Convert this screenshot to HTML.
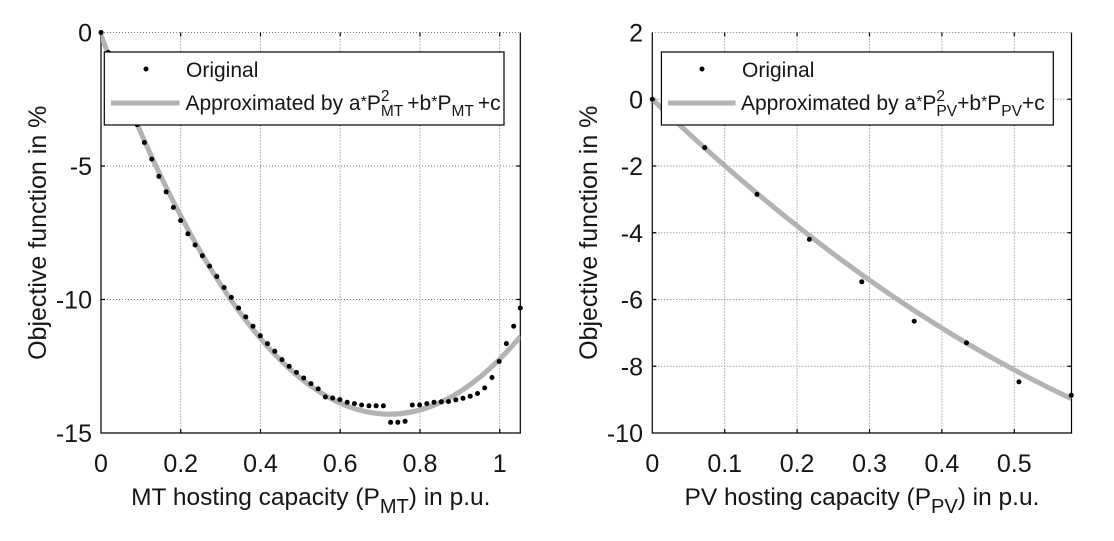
<!DOCTYPE html>
<html><head><meta charset="utf-8"><style>
html,body{margin:0;padding:0;background:#fff;}
svg{display:block;}
text{font-family:"Liberation Sans",Arial,sans-serif;fill:#151515;}
</style></head><body>
<svg width="1114" height="541" viewBox="0 0 1114 541" xmlns="http://www.w3.org/2000/svg">
<defs>
<clipPath id="c1"><rect x="101" y="32.5" width="419.3" height="400.5"/></clipPath>
<clipPath id="c2"><rect x="652.3" y="32.5" width="419.2" height="400.5"/></clipPath>
</defs>
<rect width="1114" height="541" fill="#fff"/>

<g stroke="#7a7a7a" stroke-width="1" stroke-dasharray="1,2" fill="none">
<line x1="180.7" y1="32.5" x2="180.7" y2="433"/>
<line x1="260.5" y1="32.5" x2="260.5" y2="433"/>
<line x1="340.2" y1="32.5" x2="340.2" y2="433"/>
<line x1="420" y1="32.5" x2="420" y2="433"/>
<line x1="499.7" y1="32.5" x2="499.7" y2="433"/>
<line x1="101" y1="166" x2="520.3" y2="166"/>
<line x1="101" y1="299.5" x2="520.3" y2="299.5"/>
<line x1="101" y1="32.5" x2="520.3" y2="32.5"/>
</g>
<g stroke="#000" stroke-width="1.2" fill="none">
<line x1="101" y1="32.5" x2="101" y2="433"/>
<line x1="100.4" y1="433" x2="520.9" y2="433"/>
<line x1="520.3" y1="32.5" x2="520.3" y2="433"/>
<path d="M180.7 433v-4M260.5 433v-4M340.2 433v-4M420 433v-4M499.7 433v-4M180.7 32.5v4M260.5 32.5v4M340.2 32.5v4M420 32.5v4M499.7 32.5v4M101 166h4M101 299.5h4M520.3 166h-4M520.3 299.5h-4"/>
</g>
<g clip-path="url(#c1)">
<path d="M101 35.2 Q310.3 586 520.6 336.3" stroke="#b3b3b3" stroke-width="5" fill="none"/>
</g>
<g fill="#000">
<circle cx="101" cy="32.5" r="2.5"/>
<circle cx="108.2" cy="52.5" r="2.5"/>
<circle cx="115.5" cy="71.2" r="2.5"/>
<circle cx="122.7" cy="88.6" r="2.5"/>
<circle cx="130" cy="107.3" r="2.5"/>
<circle cx="137.2" cy="124.6" r="2.5"/>
<circle cx="144.4" cy="142.5" r="2.5"/>
<circle cx="151.7" cy="159.1" r="2.5"/>
<circle cx="158.9" cy="176.4" r="2.5"/>
<circle cx="166.2" cy="191.9" r="2.5"/>
<circle cx="173.4" cy="207.4" r="2.5"/>
<circle cx="180.6" cy="220.5" r="2.5"/>
<circle cx="187.9" cy="233.8" r="2.5"/>
<circle cx="195.1" cy="245" r="2.5"/>
<circle cx="202.4" cy="255.7" r="2.5"/>
<circle cx="209.6" cy="266.1" r="2.5"/>
<circle cx="216.8" cy="276.5" r="2.5"/>
<circle cx="224.1" cy="287.5" r="2.5"/>
<circle cx="231.3" cy="297.4" r="2.5"/>
<circle cx="238.6" cy="308" r="2.5"/>
<circle cx="245.8" cy="316.9" r="2.5"/>
<circle cx="253" cy="326.2" r="2.5"/>
<circle cx="260.3" cy="335.8" r="2.5"/>
<circle cx="267.5" cy="343.6" r="2.5"/>
<circle cx="274.8" cy="351.3" r="2.5"/>
<circle cx="282" cy="359.6" r="2.5"/>
<circle cx="289.2" cy="366.3" r="2.5"/>
<circle cx="296.5" cy="372.4" r="2.5"/>
<circle cx="303.7" cy="378" r="2.5"/>
<circle cx="311" cy="383.6" r="2.5"/>
<circle cx="318.2" cy="388.9" r="2.5"/>
<circle cx="325.4" cy="397" r="2.5"/>
<circle cx="332.7" cy="398" r="2.5"/>
<circle cx="339.9" cy="399.6" r="2.5"/>
<circle cx="347.2" cy="402.3" r="2.5"/>
<circle cx="354.4" cy="403.6" r="2.5"/>
<circle cx="361.6" cy="405" r="2.5"/>
<circle cx="368.9" cy="405.8" r="2.5"/>
<circle cx="376.1" cy="405.8" r="2.5"/>
<circle cx="383.4" cy="405.8" r="2.5"/>
<circle cx="390.6" cy="422.3" r="2.5"/>
<circle cx="397.8" cy="422.3" r="2.5"/>
<circle cx="405.1" cy="421.3" r="2.5"/>
<circle cx="412.3" cy="405" r="2.5"/>
<circle cx="419.6" cy="405" r="2.5"/>
<circle cx="426.8" cy="403.6" r="2.5"/>
<circle cx="434" cy="402.3" r="2.5"/>
<circle cx="441.3" cy="401.8" r="2.5"/>
<circle cx="448.5" cy="401.5" r="2.5"/>
<circle cx="455.8" cy="399.9" r="2.5"/>
<circle cx="463" cy="398.3" r="2.5"/>
<circle cx="470.2" cy="396.2" r="2.5"/>
<circle cx="477.5" cy="393.5" r="2.5"/>
<circle cx="484.7" cy="387.9" r="2.5"/>
<circle cx="492" cy="377.5" r="2.5"/>
<circle cx="499.2" cy="361.5" r="2.5"/>
<circle cx="506.4" cy="343.6" r="2.5"/>
<circle cx="513.7" cy="326.2" r="2.5"/>
<circle cx="520.3" cy="308" r="2.5"/>
</g>
<rect x="104.3" y="52" width="399.7" height="73" fill="#fff" stroke="#000" stroke-width="1.2"/>
<circle cx="146" cy="69" r="2.5" fill="#000"/>
<line x1="111" y1="103" x2="179.5" y2="103" stroke="#b3b3b3" stroke-width="5"/>
<text x="186" y="77" font-size="21">Original</text>
<text x="185.5" y="110" font-size="21">Approximated by a<tspan font-size="16" dy="-3">*</tspan><tspan dy="3">P</tspan><tspan font-size="15.5" dy="-9">2</tspan><tspan font-size="15.5" dx="-8.6" dy="15">MT</tspan><tspan dx="4" dy="-6">+b</tspan><tspan font-size="16" dy="-3">*</tspan><tspan dy="3">P</tspan><tspan font-size="15.5" dy="6">MT</tspan><tspan dx="4" dy="-6">+c</tspan></text>

<g font-size="25" text-anchor="end">
<text x="92" y="41.5">0</text>
<text x="92" y="175">-5</text>
<text x="92" y="308.5">-10</text>
<text x="92" y="442">-15</text>
</g>
<g font-size="25" text-anchor="middle">
<text x="101" y="472">0</text>
<text x="180.7" y="472">0.2</text>
<text x="260.5" y="472">0.4</text>
<text x="340.2" y="472">0.6</text>
<text x="420" y="472">0.8</text>
<text x="499.7" y="472">1</text>
</g>
<text transform="translate(46,232.75) rotate(-90)" font-size="25" text-anchor="middle">Objective function in %</text>
<text x="310.8" y="505" font-size="24.5" text-anchor="middle">MT hosting capacity (P<tspan font-size="20" dy="8">MT</tspan><tspan dy="-8">) in p.u.</tspan></text>

<g stroke="#7a7a7a" stroke-width="1" stroke-dasharray="1,2" fill="none">
<line x1="724.7" y1="32.5" x2="724.7" y2="433"/>
<line x1="797.1" y1="32.5" x2="797.1" y2="433"/>
<line x1="869.5" y1="32.5" x2="869.5" y2="433"/>
<line x1="941.9" y1="32.5" x2="941.9" y2="433"/>
<line x1="1014.3" y1="32.5" x2="1014.3" y2="433"/>
<line x1="652.3" y1="99.25" x2="1071.5" y2="99.25"/>
<line x1="652.3" y1="166" x2="1071.5" y2="166"/>
<line x1="652.3" y1="232.75" x2="1071.5" y2="232.75"/>
<line x1="652.3" y1="299.5" x2="1071.5" y2="299.5"/>
<line x1="652.3" y1="366.25" x2="1071.5" y2="366.25"/>
<line x1="652.3" y1="32.5" x2="1071.5" y2="32.5"/>
</g>
<g stroke="#000" stroke-width="1.2" fill="none">
<line x1="652.3" y1="32.5" x2="652.3" y2="433"/>
<line x1="651.7" y1="433" x2="1072.1" y2="433"/>
<line x1="1071.5" y1="32.5" x2="1071.5" y2="433"/>
<path d="M724.7 433v-4M797.1 433v-4M869.5 433v-4M941.9 433v-4M1014.3 433v-4M724.7 32.5v4M797.1 32.5v4M869.5 32.5v4M941.9 32.5v4M1014.3 32.5v4M652.3 99.25h4M652.3 166h4M652.3 232.75h4M652.3 299.5h4M652.3 366.25h4M1071.5 99.25h-4M1071.5 166h-4M1071.5 232.75h-4M1071.5 299.5h-4M1071.5 366.25h-4"/>
</g>
<g clip-path="url(#c2)">
<path d="M652.3 99.25 Q861.8 300.5 1071.3 398.6" stroke="#b3b3b3" stroke-width="5" fill="none"/>
</g>
<g fill="#000">
<circle cx="652.3" cy="99.25" r="2.5"/>
<circle cx="704.7" cy="147.6" r="2.5"/>
<circle cx="757" cy="194.4" r="2.5"/>
<circle cx="809.4" cy="239.4" r="2.5"/>
<circle cx="861.8" cy="281.8" r="2.5"/>
<circle cx="914.2" cy="321.2" r="2.5"/>
<circle cx="966.5" cy="342.9" r="2.5"/>
<circle cx="1018.9" cy="381.9" r="2.5"/>
<circle cx="1071.3" cy="395.3" r="2.5"/>
</g>
<rect x="661.4" y="52" width="391.9" height="73" fill="#fff" stroke="#000" stroke-width="1.2"/>
<circle cx="702" cy="69" r="2.5" fill="#000"/>
<line x1="668" y1="103" x2="735.6" y2="103" stroke="#b3b3b3" stroke-width="5"/>
<text x="742" y="77" font-size="21">Original</text>
<text x="741" y="110" font-size="21">Approximated by a<tspan font-size="16" dy="-3">*</tspan><tspan dy="3">P</tspan><tspan font-size="15.5" dy="-9">2</tspan><tspan font-size="15.5" dx="-8.6" dy="15">PV</tspan><tspan dy="-6">+b</tspan><tspan font-size="16" dy="-3">*</tspan><tspan dy="3">P</tspan><tspan font-size="15.5" dy="6">PV</tspan><tspan dy="-6">+c</tspan></text>

<g font-size="25" text-anchor="end">
<text x="643" y="41.5">2</text>
<text x="643" y="108.25">0</text>
<text x="643" y="175">-2</text>
<text x="643" y="241.75">-4</text>
<text x="643" y="308.5">-6</text>
<text x="643" y="375.25">-8</text>
<text x="643" y="442">-10</text>
</g>
<g font-size="25" text-anchor="middle">
<text x="652.3" y="472">0</text>
<text x="724.7" y="472">0.1</text>
<text x="797.1" y="472">0.2</text>
<text x="869.5" y="472">0.3</text>
<text x="941.9" y="472">0.4</text>
<text x="1014.3" y="472">0.5</text>
</g>
<text transform="translate(597,232.75) rotate(-90)" font-size="25" text-anchor="middle">Objective function in %</text>
<text x="862" y="505" font-size="24.5" text-anchor="middle">PV hosting capacity (P<tspan font-size="20" dy="8">PV</tspan><tspan dy="-8">) in p.u.</tspan></text>
</svg>
</body></html>
